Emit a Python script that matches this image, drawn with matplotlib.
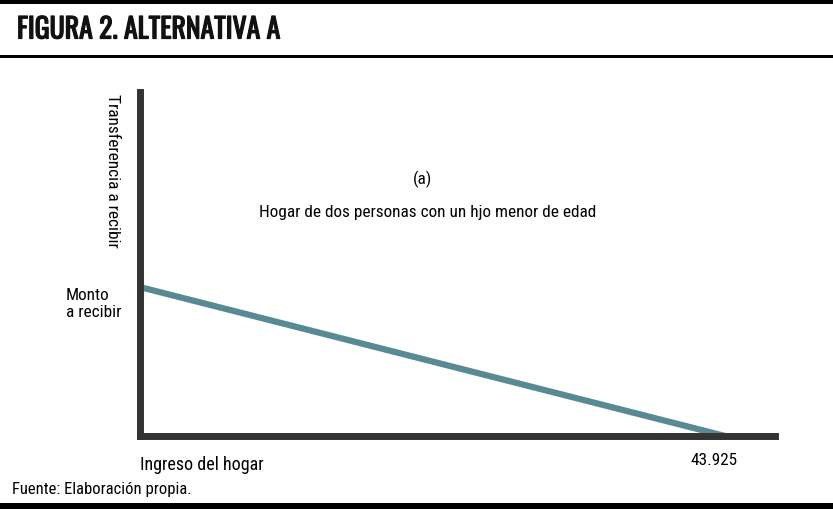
import matplotlib
matplotlib.use("Agg")
import matplotlib.pyplot as plt
import matplotlib.patheffects as pe
from matplotlib.patches import Rectangle

# datos
ingreso = [0, 43925]
transferencia = [1.0, 0.0]
x_max = 47680
y_max = 2.31

title = "FIGURA 2. ALTERNATIVA A"
subtitle_a = "(a)"
subtitle_b = "Hogar de dos personas con un hjo menor de edad"
y_label = "Transferencia a recibir"
x_label = "Ingreso del hogar"
monto_label = "Monto\na recibir"
x_tick_label = "43.925"
source = "Fuente: Elaboración propia."

plt.rcParams['font.family'] = ['Roboto Condensed', 'DejaVu Sans']

W, H = 833, 510
fig = plt.figure(figsize=(W / 100, H / 100), dpi=100)

def fx(px):
    return px / W

def fy(py):
    return 1 - py / H

# bordes del marco
fig.add_artist(Rectangle((0, fy(5)), 1, 5 / H, transform=fig.transFigure, color="black", lw=0))
fig.add_artist(Rectangle((0, fy(59)), 1, 3 / H, transform=fig.transFigure, color="black", lw=0))
fig.add_artist(Rectangle((0, 0), 1, 6 / H, transform=fig.transFigure, color="black", lw=0))

fig.text(fx(17), fy(31), title, fontsize=20, va="center", ha="left", color="#111111",
         family=['Oswald', 'DejaVu Sans'],
         path_effects=[pe.withStroke(linewidth=0.9, foreground="#111111")])

ax = fig.add_axes([fx(140), fy(437), fx(775 - 140), (437 - 93) / H])
ax.plot(ingreso, transferencia, color="#588a94", lw=4.5, solid_capstyle="butt")
ax.set_xlim(0, x_max)
ax.set_ylim(0, y_max)
for s in ["top", "right"]:
    ax.spines[s].set_visible(False)
for s in ["left", "bottom"]:
    ax.spines[s].set_linewidth(5)
    ax.spines[s].set_color("#333333")
ax.set_xticks([])
ax.set_yticks([])
ax.patch.set_alpha(0)

fs = 12.4
fig.text(fx(112), fy(94), y_label, rotation=270, fontsize=fs, va="top", ha="center")
fig.text(fx(422), fy(179), subtitle_a, fontsize=fs, ha="center", va="center")
fig.text(fx(428), fy(213), subtitle_b, fontsize=fs, ha="center", va="center")
fig.text(fx(66), fy(304), monto_label, fontsize=fs, ha="left", va="center", linespacing=1.2)
fig.text(fx(140), fy(465), x_label, fontsize=13, ha="left", va="center")
fig.text(fx(714), fy(461), x_tick_label, fontsize=fs, ha="center", va="center")
fig.text(fx(12), fy(490), source, fontsize=12, ha="left", va="center")

fig.savefig("out.png", dpi=100)
